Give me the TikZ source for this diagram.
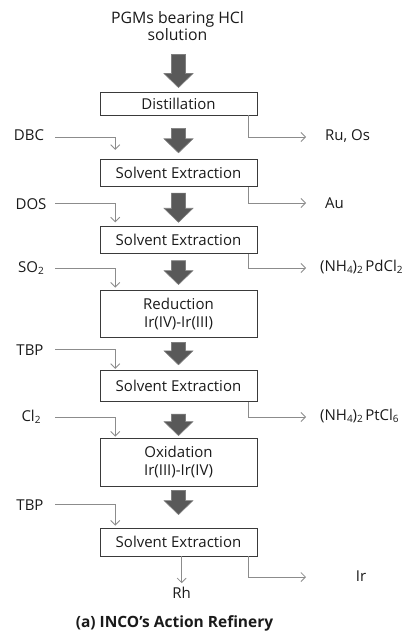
\documentclass[tikz,border=0pt]{standalone}
\usepackage{fontspec}
\setmainfont{Open Sans}
\usetikzlibrary{arrows.meta,calc}
\definecolor{boxline}{HTML}{3A3A3A}
\definecolor{thinc}{HTML}{8C8C8C}
\definecolor{fatfill}{HTML}{595959}
\definecolor{fatedge}{HTML}{7F7F7F}
\definecolor{txt}{HTML}{1A1A1A}
\newcommand\mysub[1]{\raisebox{-0.3ex}{\fontsize{10}{10}\selectfont #1}}
\begin{document}
\begin{tikzpicture}[x=1pt,y=-1pt,
  font=\fontsize{15}{18}\selectfont,
  box/.style={draw=boxline, line width=0.9pt, minimum width=157pt, inner sep=0pt, align=center, text=txt},
  lbl/.style={text=txt, inner sep=1pt},
  thin/.style={draw=thinc, line width=0.8pt, -{Straight Barb[length=4.5pt,width=9pt]}},
  fat/.style={fill=fatfill, draw=fatedge, line width=0.6pt,
    to path={let \p1=(\tikztostart), \p2=(\tikztotarget) in
      (\x1-7pt,\y1) -- (\x1+7pt,\y1) -- (\x1+7pt,\y2+14pt) -- (\x1+14.5pt,\y2+14pt)
      -- (\x1,\y2) -- (\x1-14.5pt,\y2+14pt) -- (\x1-7pt,\y2+14pt) -- cycle}}]
\useasboundingbox (0,0) rectangle (408,636);
% title
\node[lbl, align=center, font=\fontsize{15.8}{17}\selectfont] (top) at (177.5,26) {PGMs bearing HCl\\solution};
% boxes
\node[box, minimum height=23pt]   (b1) at (178.5,103.5) {Distillation};
\node[box, minimum height=27.5pt] (b2) at (178.5,173) {Solvent Extraction};
\node[box, minimum height=26.5pt] (b3) at (178.5,240) {Solvent Extraction};
\node[box, minimum height=47pt]   (b4) at (178.5,313.5) {Reduction\\Ir(IV)-Ir(III)};
\node[box, minimum height=31.5pt] (b5) at (178.5,386) {Solvent Extraction};
\node[box, minimum height=48pt]   (b6) at (178.5,462) {Oxidation\\Ir(III)-Ir(IV)};
\node[box, minimum height=28pt]   (b7) at (178.5,542) {Solvent Extraction};
% fat arrows
\draw[fat] ($(b1.north)+(0,-37)$) to ($(b1.north)+(0,-4)$);
\draw[fat] ($(b1.south)+(0,13)$) to ($(b2.north)+(0,-6)$);
\draw[fat] ($(b2.south)+(0,6)$) to ($(b3.north)+(0,-4)$);
\draw[fat] ($(b3.south)+(0,7)$) to ($(b4.north)+(0,-5)$);
\draw[fat] ($(b4.south)+(0,5)$) to ($(b5.north)+(0,-5)$);
\draw[fat] ($(b5.south)+(0,12)$) to ($(b6.north)+(0,-2)$);
\draw[fat] ($(b6.south)+(0,4)$) to ($(b7.north)+(0,-13)$);
% left inputs
\node[lbl] (dbc) at (29,135) {DBC};
\node[lbl] (dos) at (31,204) {DOS};
\node[lbl] (so2) at (31,268) {SO\mysub{2}};
\node[lbl] (tbp1) at (30,350) {TBP};
\node[lbl] (cl2) at (31,417) {Cl\mysub{2}};
\node[lbl] (tbp2) at (30,505) {TBP};
\draw[thin] (55,137) -| ($(b2.north west)+(15.7,-9)$);
\draw[thin] (55,203.5) -| ($(b3.north west)+(15.7,-4)$);
\draw[thin] (55,268) -| ($(b4.north west)+(15.7,-2)$);
\draw[thin] (55,349.5) -| ($(b5.north west)+(15.7,-1)$);
\draw[thin] (55,417) -| ($(b6.north west)+(15.7,-1)$);
\draw[thin] (55,504.5) -| ($(b7.north west)+(15.7,-2)$);
% right outputs
\node[lbl, anchor=west] (ruos) at (324,136) {Ru, Os};
\node[lbl, anchor=west] (au) at (324,203) {Au};
\node[lbl, anchor=west] (pd) at (319,267) {(NH\mysub{4})\mysub{2}\,PdCl\mysub{2}};
\node[lbl, anchor=west] (pt) at (319,416) {(NH\mysub{4})\mysub{2}\,PtCl\mysub{6}};
\node[lbl] (ir) at (361,576) {Ir};
\coordinate (irend) at (306,577);
\draw[thin] ($(b1.south east)+(-9.4,0)$) |- (306,137);
\draw[thin] ($(b2.south east)+(-9.4,0)$) |- (306,203);
\draw[thin] ($(b3.south east)+(-9.4,0)$) |- (306,268);
\draw[thin] ($(b5.south east)+(-9.4,0)$) |- (306,417);
\draw[thin] ($(b7.south east)+(-9.4,0)$) |- (irend);
% Rh
\node[lbl] (rh) at (181.7,593) {Rh};
\draw[thin] ($(b7.south)+(3.2,0)$) -- ($(rh.north)+(0,-3)$);
% caption
\node[lbl, font=\fontsize{15.5}{17}\selectfont\bfseries] (cap) at (174.5,623) {(a) INCO’s Action Refinery};
\end{tikzpicture}
\end{document}
